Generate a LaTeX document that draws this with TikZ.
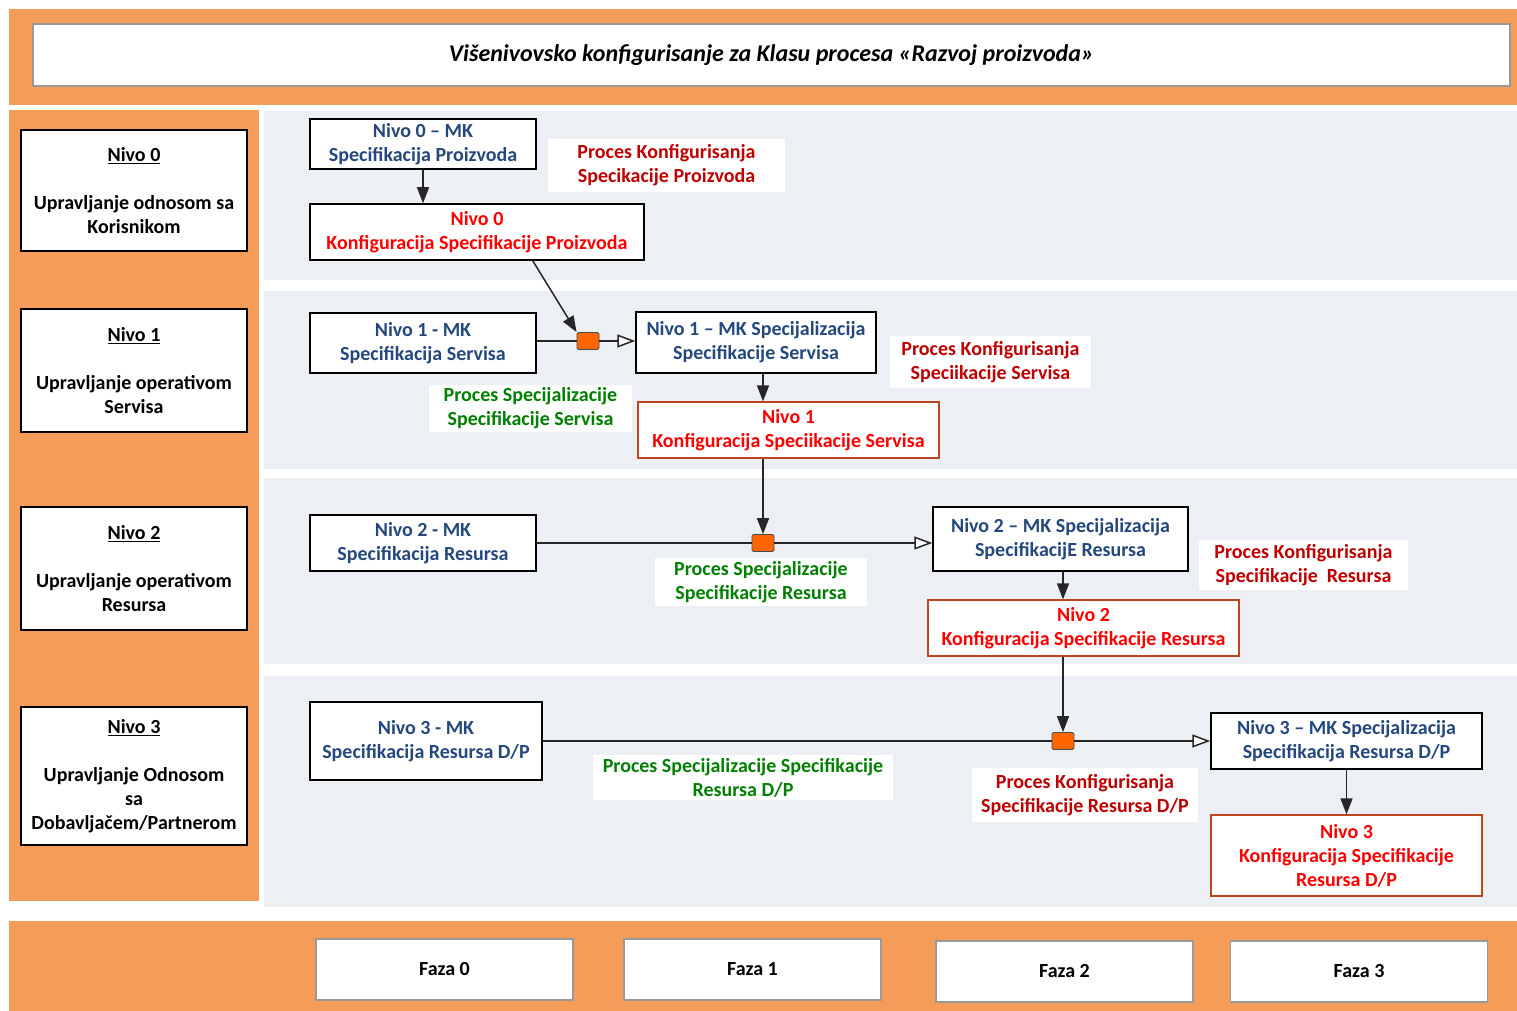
\documentclass[tikz,border=0pt]{standalone}
\usepackage{fontspec}
\setmainfont{Carlito}
\definecolor{bandorange}{RGB}{245,157,88}
\definecolor{lanegray}{RGB}{236,240,245}
\definecolor{mkblue}{RGB}{36,72,125}
\definecolor{cfgred}{RGB}{255,0,0}
\definecolor{procred}{RGB}{192,0,0}
\definecolor{procgreen}{RGB}{0,128,0}
\definecolor{cfgborder}{RGB}{185,70,30}
\definecolor{juncorange}{RGB}{255,102,0}
\usetikzlibrary{arrows.meta, positioning, calc}
\tikzset{
	txt/.style={font=\fontsize{20}{24}\selectfont\bfseries, align=center, inner sep=0pt},
	level/.style={txt, rectangle, draw=black, fill=white, line width=1.5pt, minimum width=226pt, text=black},
	mk/.style={txt, rectangle, draw=black, fill=white, line width=1.5pt, text=mkblue},
	config/.style={txt, rectangle, draw=cfgborder, fill=white, line width=1.3pt, text=cfgred},
	proc/.style={txt, rectangle, fill=white, text=procred},
	spec/.style={txt, rectangle, fill=white, text=procgreen},
	phase/.style={txt, font=\fontsize{20}{24}\selectfont\bfseries, rectangle, draw=black!40, fill=white, line width=1.2pt, minimum width=257pt, minimum height=61pt},
	junc/.style={rectangle, rounded corners=1.5pt, draw=black!70, fill=juncorange, line width=0.8pt, minimum width=22pt, minimum height=17pt, inner sep=0pt},
	link/.style={line width=1.5pt, draw=black!85},
	arrow/.style={link, -{Triangle[length=16pt, width=12pt]}},
	openarrow/.style={link, -{Triangle[open, fill=white, length=18pt, width=13pt]}},
}
\begin{document}
\begin{tikzpicture}[x=1pt, y=-1pt]
	\useasboundingbox (0,0) rectangle (1517,1011);
	\fill[bandorange] (9,9) rectangle (1517,105);
	\fill[bandorange] (9,110) rectangle (259,901);
	\fill[bandorange] (9,921) rectangle (1517,1011);
	\fill[lanegray] (264,111) rectangle (1517,280);
	\fill[lanegray] (264,291) rectangle (1517,469);
	\fill[lanegray] (264,478) rectangle (1517,664);
	\fill[lanegray] (264,676) rectangle (1517,907);

	\node[txt, draw=black!40, fill=white, line width=1.2pt, minimum width=1477pt, minimum height=62pt, font=\fontsize{24}{28}\selectfont\bfseries\itshape] (title) at (771.5,55) {Višenivovsko konfigurisanje za Klasu procesa «Razvoj proizvoda»};

	\node[level, minimum height=121pt] (lvl0) at (134,190.5) {\underline{Nivo 0}\\[24pt]Upravljanje odnosom sa\\Korisnikom};
	\node[level, minimum height=123pt] (lvl1) at (134,370.5) {\underline{Nivo 1}\\[24pt]Upravljanje operativom\\Servisa};
	\node[level, minimum height=123pt] (lvl2) at (134,568.5) {\underline{Nivo 2}\\[24pt]Upravljanje operativom\\Resursa};
	\node[level, minimum height=138pt] (lvl3) at (134,776) {\underline{Nivo 3}\\[24pt]Upravljanje Odnosom\\sa\\Dobavljačem/Partnerom};

	\node[mk, minimum width=226pt, minimum height=50pt] (mk0) at (423,144) {Nivo 0 – MK\\Specifikacija Proizvoda};
	\node[mk, draw=black, minimum width=334pt, minimum height=56pt, text=cfgred] (kf0) at (477,232) {Nivo 0\\Konfiguracija Specifikacije Proizvoda};
	\node[proc, minimum width=237pt, minimum height=53pt] (kp0) at (666.5,165.5) {Proces Konfigurisanja\\Specikacije Proizvoda};

	\node[mk, minimum width=226pt, minimum height=60pt] (mk1) at (423,343) {Nivo 1 - MK\\Specifikacija Servisa};
	\node[junc] (j1) at (588,341) {};
	\node[mk, minimum width=240pt, minimum height=61pt] (mks1) at (756,342.5) {Nivo 1 – MK Specijalizacija\\Specifikacije Servisa};
	\node[config, minimum width=301pt, minimum height=56pt] (kf1) at (788.5,430) {Nivo 1\\Konfiguracija Speciikacije Servisa};
	\node[spec, minimum width=203pt, minimum height=47pt] (sp1) at (530.5,408.5) {Proces Specijalizacije\\Specifikacije Servisa};
	\node[proc, minimum width=201pt, minimum height=52pt] (kp1) at (990.5,362) {Proces Konfigurisanja\\Speciikacije Servisa};

	\node[mk, minimum width=226pt, minimum height=56pt] (mk2) at (423,543) {Nivo 2 - MK\\Specifikacija Resursa};
	\node[junc] (j2) at (763,543) {};
	\node[mk, minimum width=255pt, minimum height=64pt] (mks2) at (1060.5,539) {Nivo 2 – MK Specijalizacija\\SpecifikacijE Resursa};
	\node[config, minimum width=311pt, minimum height=56pt] (kf2) at (1083.5,628) {Nivo 2\\Konfiguracija Specifikacije Resursa};
	\node[spec, minimum width=212pt, minimum height=48pt] (sp2) at (761,582) {Proces Specijalizacije\\Specifikacije Resursa};
	\node[proc, minimum width=209pt, minimum height=50pt] (kp2) at (1303.5,565) {Proces Konfigurisanja\\Specifikacije\ \ Resursa};

	\node[mk, minimum width=232pt, minimum height=78pt] (mk3) at (426,741) {Nivo 3 - MK\\Specifikacija Resursa D/P};
	\node[junc] (j3) at (1063,741) {};
	\node[mk, minimum width=271pt, minimum height=56pt] (mks3) at (1346.5,741) {Nivo 3 – MK Specijalizacija\\Specifikacija Resursa D/P};
	\node[config, minimum width=271pt, minimum height=81pt] (kf3) at (1346.5,855.5) {Nivo 3\\Konfiguracija Specifikacije\\Resursa D/P};
	\node[spec, minimum width=300pt, minimum height=45pt] (sp3) at (743,777.5) {Proces Specijalizacije Specifikacije\\Resursa D/P};
	\node[proc, minimum width=226pt, minimum height=54pt] (kp3) at (1085,795) {Proces Konfigurisanja\\Specifikacije Resursa D/P};

	\node[phase] (f0) at (444.5,969.5) {Faza 0};
	\node[phase] (f1) at (752.5,969.5) {Faza 1};
	\node[phase] (f2) at (1064.5,971.5) {Faza 2};
	\node[phase] (f3) at (1359,971.5) {Faza 3};

	\draw[arrow] (mk0.south) -- (mk0.south |- kf0.north);
	\draw[arrow] ([xshift=-112pt]kf0.south east) -- (j1.north west);
	\draw[link] (mk1.east |- j1) -- (j1);
	\draw[openarrow] (j1) -- (j1 -| mks1.west);
	\draw[arrow] (j2 |- mks1.south) -- (j2 |- kf1.north);
	\draw[arrow] (j2 |- kf1.south) -- (j2);
	\draw[link] (mk2.east |- j2) -- (j2);
	\draw[openarrow] (j2) -- (j2 -| mks2.west);
	\draw[arrow] (j3 |- mks2.south) -- (j3 |- kf2.north);
	\draw[arrow] (j3 |- kf2.south) -- (j3);
	\draw[link] (mk3.east |- j3) -- (j3);
	\draw[openarrow] (j3) -- (j3 -| mks3.west);
	\draw[arrow] (mks3) -- (kf3);
\end{tikzpicture}
\end{document}
